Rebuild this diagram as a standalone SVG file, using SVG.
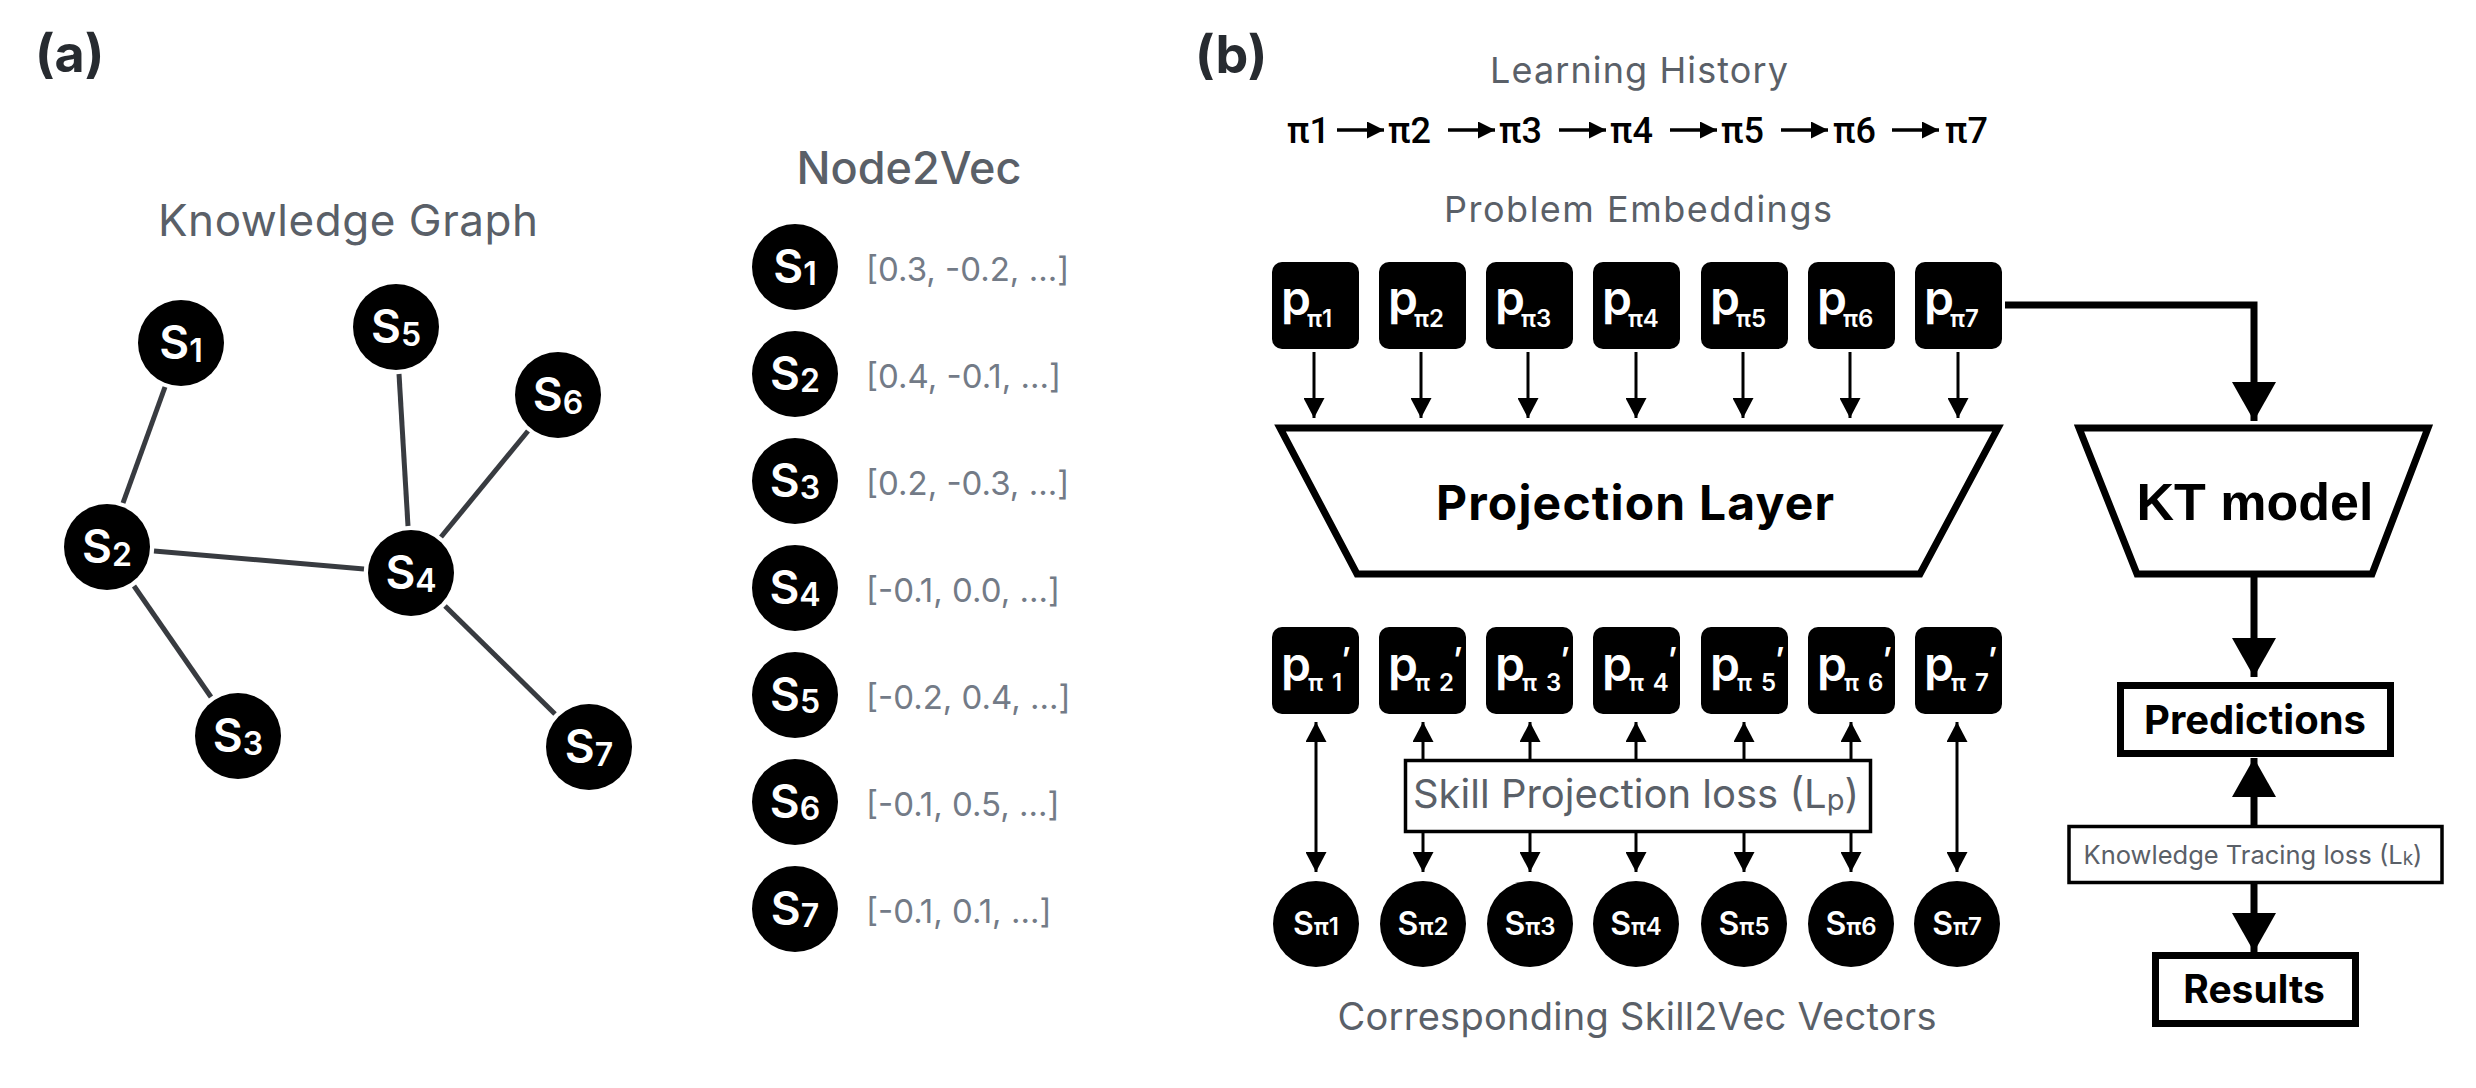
<svg xmlns="http://www.w3.org/2000/svg" width="2476" height="1088" viewBox="0 0 2476 1088">
<style>
.bg{fill:#fff}
.panel{font-family:Inter,"Noto Sans",sans-serif;font-weight:700;font-size:52px;fill:#272b30}
.title{font-family:Inter,"Noto Sans",sans-serif;fill:#5a6068;text-anchor:middle}
.vec{font-family:Inter,"Noto Sans",sans-serif;font-size:33px;fill:#737b87}
.dot{fill:#000}
.nl{font-family:Inter,"Noto Sans",sans-serif;font-weight:600;fill:#fff;text-anchor:middle}
.edge{stroke:#383b40;stroke-width:5;fill:none}
.box{fill:#000}
.pl{font-family:Inter,"Noto Sans",sans-serif;font-weight:600;fill:#fff}
.thin{stroke:#000;stroke-width:3;fill:none}
.thick{stroke:#000;stroke-width:7;fill:none}
.trap{fill:#fff;stroke:#000;stroke-width:7}
.lossbox{fill:#fff;stroke:#000;stroke-width:3.5}
.bold{font-family:Inter,"Noto Sans",sans-serif;font-weight:700;fill:#000;text-anchor:middle}
.seq{font-family:Roboto,"Liberation Sans",sans-serif;font-weight:500;font-size:36px;fill:#000}
</style>
<defs>
<marker id="ah" markerUnits="userSpaceOnUse" markerWidth="20" markerHeight="21" refX="20" refY="10.5" orient="auto-start-reverse" viewBox="0 0 20 21"><path d="M0,0 L20,10.5 L0,21 z" fill="#000"/></marker>
<marker id="big" markerUnits="userSpaceOnUse" markerWidth="39" markerHeight="44" refX="39" refY="22" orient="auto-start-reverse" viewBox="0 0 39 44"><path d="M0,0 L39,22 L0,44 z" fill="#000"/></marker>
<marker id="seqa" markerUnits="userSpaceOnUse" markerWidth="17" markerHeight="17" refX="17" refY="8.5" orient="auto" viewBox="0 0 17 17"><path d="M0,0 L17,8.5 L0,17 z" fill="#000"/></marker>
</defs>
<rect class="bg" x="0" y="0" width="2476" height="1088"/>

<text class="panel" x="35" y="72">(a)</text>
<text class="panel" x="1195" y="73">(b)</text>

<text class="title" x="348" y="236" font-size="44" textLength="380" lengthAdjust="spacing">Knowledge Graph</text>
<text class="title" x="909" y="184" font-size="45" font-weight="500">Node2Vec</text>

<g id="graph-edges">
<line class="edge" x1="165" y1="387" x2="123" y2="503"/>
<line class="edge" x1="154" y1="551" x2="364" y2="569"/>
<line class="edge" x1="134" y1="586" x2="211" y2="697"/>
<line class="edge" x1="408" y1="526" x2="399" y2="374"/>
<line class="edge" x1="441" y1="537" x2="528" y2="431"/>
<line class="edge" x1="445" y1="606" x2="555" y2="714"/>
</g>

<g id="g-s1"><circle class="dot" cx="181" cy="343" r="43"/><text class="nl" x="181" y="359" font-size="46">S<tspan font-size="32" dy="3">1</tspan></text></g>
<g id="g-s2"><circle class="dot" cx="107" cy="547" r="43"/><text class="nl" x="107" y="563" font-size="46">S<tspan font-size="32" dy="3">2</tspan></text></g>
<g id="g-s3"><circle class="dot" cx="238" cy="736" r="43"/><text class="nl" x="238" y="752" font-size="46">S<tspan font-size="32" dy="3">3</tspan></text></g>
<g id="g-s4"><circle class="dot" cx="411" cy="573" r="43"/><text class="nl" x="411" y="589" font-size="46">S<tspan font-size="32" dy="3">4</tspan></text></g>
<g id="g-s5"><circle class="dot" cx="396" cy="327" r="43"/><text class="nl" x="396" y="343" font-size="46">S<tspan font-size="32" dy="3">5</tspan></text></g>
<g id="g-s6"><circle class="dot" cx="558" cy="395" r="43"/><text class="nl" x="558" y="411" font-size="46">S<tspan font-size="32" dy="3">6</tspan></text></g>
<g id="g-s7"><circle class="dot" cx="589" cy="747" r="43"/><text class="nl" x="589" y="763" font-size="46">S<tspan font-size="32" dy="3">7</tspan></text></g>

<g id="n2v-1"><circle class="dot" cx="795" cy="267" r="43"/><text class="nl" x="795" y="283" font-size="46">S<tspan font-size="32" dy="2">1</tspan></text><text class="vec" x="866" y="281">[0.3, -0.2, ...]</text></g>
<g id="n2v-2"><circle class="dot" cx="795" cy="374" r="43"/><text class="nl" x="795" y="390" font-size="46">S<tspan font-size="32" dy="2">2</tspan></text><text class="vec" x="866" y="388">[0.4, -0.1, ...]</text></g>
<g id="n2v-3"><circle class="dot" cx="795" cy="481" r="43"/><text class="nl" x="795" y="497" font-size="46">S<tspan font-size="32" dy="2">3</tspan></text><text class="vec" x="866" y="495">[0.2, -0.3, ...]</text></g>
<g id="n2v-4"><circle class="dot" cx="795" cy="588" r="43"/><text class="nl" x="795" y="604" font-size="46">S<tspan font-size="32" dy="2">4</tspan></text><text class="vec" x="866" y="602">[-0.1, 0.0, ...]</text></g>
<g id="n2v-5"><circle class="dot" cx="795" cy="695" r="43"/><text class="nl" x="795" y="711" font-size="46">S<tspan font-size="32" dy="2">5</tspan></text><text class="vec" x="866" y="709">[-0.2, 0.4, ...]</text></g>
<g id="n2v-6"><circle class="dot" cx="795" cy="802" r="43"/><text class="nl" x="795" y="818" font-size="46">S<tspan font-size="32" dy="2">6</tspan></text><text class="vec" x="866" y="816">[-0.1, 0.5, ...]</text></g>
<g id="n2v-7"><circle class="dot" cx="795" cy="909" r="43"/><text class="nl" x="795" y="925" font-size="46">S<tspan font-size="32" dy="2">7</tspan></text><text class="vec" x="866" y="923">[-0.1, 0.1, ...]</text></g>

<text class="title" x="1639" y="83" font-size="36" textLength="298" lengthAdjust="spacing">Learning History</text>
<g id="history">
<text class="seq" y="143"><tspan x="1287">π1</tspan><tspan x="1388">π2</tspan><tspan x="1499">π3</tspan><tspan x="1610">π4</tspan><tspan x="1721">π5</tspan><tspan x="1833">π6</tspan><tspan x="1945">π7</tspan></text>
</g>
<text class="title" x="1638" y="222" font-size="36" textLength="388" lengthAdjust="spacing">Problem Embeddings</text>

<g id="connectors">
<g id="seq-arrows">
<line x1="1337" y1="130" x2="1384" y2="130" stroke="#000" stroke-width="3.5" marker-end="url(#seqa)"/>
<line x1="1448" y1="130" x2="1495" y2="130" stroke="#000" stroke-width="3.5" marker-end="url(#seqa)"/>
<line x1="1559" y1="130" x2="1606" y2="130" stroke="#000" stroke-width="3.5" marker-end="url(#seqa)"/>
<line x1="1670" y1="130" x2="1717" y2="130" stroke="#000" stroke-width="3.5" marker-end="url(#seqa)"/>
<line x1="1781" y1="130" x2="1828" y2="130" stroke="#000" stroke-width="3.5" marker-end="url(#seqa)"/>
<line x1="1892" y1="130" x2="1939" y2="130" stroke="#000" stroke-width="3.5" marker-end="url(#seqa)"/>
</g>
<g id="to-projection">
<line class="thin" x1="1314" y1="352" x2="1314" y2="418" marker-end="url(#ah)"/>
<line class="thin" x1="1421" y1="352" x2="1421" y2="418" marker-end="url(#ah)"/>
<line class="thin" x1="1528" y1="352" x2="1528" y2="418" marker-end="url(#ah)"/>
<line class="thin" x1="1636" y1="352" x2="1636" y2="418" marker-end="url(#ah)"/>
<line class="thin" x1="1743" y1="352" x2="1743" y2="418" marker-end="url(#ah)"/>
<line class="thin" x1="1850" y1="352" x2="1850" y2="418" marker-end="url(#ah)"/>
<line class="thin" x1="1958" y1="352" x2="1958" y2="418" marker-end="url(#ah)"/>
</g>
<g id="proj-loss">
<line class="thin" x1="1316" y1="722" x2="1316" y2="872" marker-start="url(#ah)" marker-end="url(#ah)"/>
<line class="thin" x1="1423" y1="722" x2="1423" y2="760" marker-start="url(#ah)"/>
<line class="thin" x1="1423" y1="832" x2="1423" y2="872" marker-end="url(#ah)"/>
<line class="thin" x1="1530" y1="722" x2="1530" y2="760" marker-start="url(#ah)"/>
<line class="thin" x1="1530" y1="832" x2="1530" y2="872" marker-end="url(#ah)"/>
<line class="thin" x1="1636" y1="722" x2="1636" y2="760" marker-start="url(#ah)"/>
<line class="thin" x1="1636" y1="832" x2="1636" y2="872" marker-end="url(#ah)"/>
<line class="thin" x1="1744" y1="722" x2="1744" y2="760" marker-start="url(#ah)"/>
<line class="thin" x1="1744" y1="832" x2="1744" y2="872" marker-end="url(#ah)"/>
<line class="thin" x1="1851" y1="722" x2="1851" y2="760" marker-start="url(#ah)"/>
<line class="thin" x1="1851" y1="832" x2="1851" y2="872" marker-end="url(#ah)"/>
<line class="thin" x1="1957" y1="722" x2="1957" y2="872" marker-start="url(#ah)" marker-end="url(#ah)"/>
</g>
<g id="kt-flow">
<path class="thick" d="M2005,305 H2254 V421" marker-end="url(#big)"/>
<line class="thick" x1="2254" y1="576" x2="2254" y2="677" marker-end="url(#big)"/>
<line class="thick" x1="2254" y1="826" x2="2254" y2="758" marker-end="url(#big)"/>
<line class="thick" x1="2254" y1="883" x2="2254" y2="952" marker-end="url(#big)"/>
</g>
</g>

<g id="p-boxes">
<g id="p1"><rect class="box" x="1272" y="262" width="87" height="87" rx="10"/><text class="pl" x="1281" y="315"><tspan font-size="48">p</tspan><tspan font-size="24" dx="-4" dy="12">π1</tspan></text></g>
<g id="p2"><rect class="box" x="1379" y="262" width="87" height="87" rx="10"/><text class="pl" x="1388" y="315"><tspan font-size="48">p</tspan><tspan font-size="24" dx="-4" dy="12">π2</tspan></text></g>
<g id="p3"><rect class="box" x="1486" y="262" width="87" height="87" rx="10"/><text class="pl" x="1495" y="315"><tspan font-size="48">p</tspan><tspan font-size="24" dx="-4" dy="12">π3</tspan></text></g>
<g id="p4"><rect class="box" x="1593" y="262" width="87" height="87" rx="10"/><text class="pl" x="1602" y="315"><tspan font-size="48">p</tspan><tspan font-size="24" dx="-4" dy="12">π4</tspan></text></g>
<g id="p5"><rect class="box" x="1701" y="262" width="87" height="87" rx="10"/><text class="pl" x="1710" y="315"><tspan font-size="48">p</tspan><tspan font-size="24" dx="-4" dy="12">π5</tspan></text></g>
<g id="p6"><rect class="box" x="1808" y="262" width="87" height="87" rx="10"/><text class="pl" x="1817" y="315"><tspan font-size="48">p</tspan><tspan font-size="24" dx="-4" dy="12">π6</tspan></text></g>
<g id="p7"><rect class="box" x="1915" y="262" width="87" height="87" rx="10"/><text class="pl" x="1924" y="315"><tspan font-size="48">p</tspan><tspan font-size="24" dx="-4" dy="12">π7</tspan></text></g>
</g>

<g id="projection-layer">
<polygon class="trap" points="1280,428 1998,428 1920,574 1357,574"/>
<text class="bold" x="1635" y="520" font-size="48" textLength="398" lengthAdjust="spacing">Projection Layer</text>
</g>

<g id="pp-boxes">
<g id="pp1"><rect class="box" x="1272" y="627" width="87" height="87" rx="10"/><text class="pl" x="1281" y="681"><tspan font-size="48">p</tspan><tspan font-size="24" dx="-3" dy="10">π</tspan><tspan font-size="24" dx="9">1</tspan><tspan font-size="32" dx="-1" dy="-20">’</tspan></text></g>
<g id="pp2"><rect class="box" x="1379" y="627" width="87" height="87" rx="10"/><text class="pl" x="1388" y="681"><tspan font-size="48">p</tspan><tspan font-size="24" dx="-3" dy="10">π</tspan><tspan font-size="24" dx="9">2</tspan><tspan font-size="32" dx="-1" dy="-20">’</tspan></text></g>
<g id="pp3"><rect class="box" x="1486" y="627" width="87" height="87" rx="10"/><text class="pl" x="1495" y="681"><tspan font-size="48">p</tspan><tspan font-size="24" dx="-3" dy="10">π</tspan><tspan font-size="24" dx="9">3</tspan><tspan font-size="32" dx="-1" dy="-20">’</tspan></text></g>
<g id="pp4"><rect class="box" x="1593" y="627" width="87" height="87" rx="10"/><text class="pl" x="1602" y="681"><tspan font-size="48">p</tspan><tspan font-size="24" dx="-3" dy="10">π</tspan><tspan font-size="24" dx="9">4</tspan><tspan font-size="32" dx="-1" dy="-20">’</tspan></text></g>
<g id="pp5"><rect class="box" x="1701" y="627" width="87" height="87" rx="10"/><text class="pl" x="1710" y="681"><tspan font-size="48">p</tspan><tspan font-size="24" dx="-3" dy="10">π</tspan><tspan font-size="24" dx="9">5</tspan><tspan font-size="32" dx="-1" dy="-20">’</tspan></text></g>
<g id="pp6"><rect class="box" x="1808" y="627" width="87" height="87" rx="10"/><text class="pl" x="1817" y="681"><tspan font-size="48">p</tspan><tspan font-size="24" dx="-3" dy="10">π</tspan><tspan font-size="24" dx="9">6</tspan><tspan font-size="32" dx="-1" dy="-20">’</tspan></text></g>
<g id="pp7"><rect class="box" x="1915" y="627" width="87" height="87" rx="10"/><text class="pl" x="1924" y="681"><tspan font-size="48">p</tspan><tspan font-size="24" dx="-3" dy="10">π</tspan><tspan font-size="24" dx="9">7</tspan><tspan font-size="32" dx="-1" dy="-20">’</tspan></text></g>
</g>

<g id="skill-loss">
<rect class="lossbox" x="1405.5" y="760.5" width="465" height="71" stroke-width="3"/>
<text class="title" x="1636" y="808" font-size="40">Skill Projection loss (L<tspan font-size="29" dy="2">p</tspan><tspan dy="-2">)</tspan></text>
</g>

<g id="s-nodes">
<g id="sp1"><circle class="dot" cx="1316" cy="924" r="43"/><text class="nl" x="1316" y="935" font-size="32">S<tspan font-size="24">π1</tspan></text></g>
<g id="sp2"><circle class="dot" cx="1423" cy="924" r="43"/><text class="nl" x="1423" y="935" font-size="32">S<tspan font-size="24">π2</tspan></text></g>
<g id="sp3"><circle class="dot" cx="1530" cy="924" r="43"/><text class="nl" x="1530" y="935" font-size="32">S<tspan font-size="24">π3</tspan></text></g>
<g id="sp4"><circle class="dot" cx="1636" cy="924" r="43"/><text class="nl" x="1636" y="935" font-size="32">S<tspan font-size="24">π4</tspan></text></g>
<g id="sp5"><circle class="dot" cx="1744" cy="924" r="43"/><text class="nl" x="1744" y="935" font-size="32">S<tspan font-size="24">π5</tspan></text></g>
<g id="sp6"><circle class="dot" cx="1851" cy="924" r="43"/><text class="nl" x="1851" y="935" font-size="32">S<tspan font-size="24">π6</tspan></text></g>
<g id="sp7"><circle class="dot" cx="1957" cy="924" r="43"/><text class="nl" x="1957" y="935" font-size="32">S<tspan font-size="24">π7</tspan></text></g>
</g>

<text class="title" x="1637" y="1030" font-size="38" textLength="599" lengthAdjust="spacing">Corresponding Skill2Vec Vectors</text>

<g id="kt-model">
<polygon class="trap" points="2079,428 2428,428 2372,574 2137,574"/>
<text x="2255" y="520" font-family="'Liberation Sans',Arial,sans-serif" font-weight="700" font-size="52" text-anchor="middle" fill="#000">KT model</text>
</g>

<g id="predictions">
<rect x="2120.5" y="685.5" width="270" height="68" fill="#fff" stroke="#000" stroke-width="7"/>
<text class="bold" x="2255" y="734" font-size="40">Predictions</text>
</g>

<g id="kt-loss">
<rect class="lossbox" x="2069" y="826.5" width="373" height="56"/>
<text class="title" x="2253" y="864" font-size="25.5">Knowledge Tracing loss (L<tspan font-size="19" dy="1">k</tspan><tspan dy="-1">)</tspan></text>
</g>

<g id="results">
<rect x="2155.5" y="955.5" width="200" height="68" fill="#fff" stroke="#000" stroke-width="7"/>
<text class="bold" x="2254" y="1003" font-size="39">Results</text>
</g>
</svg>
